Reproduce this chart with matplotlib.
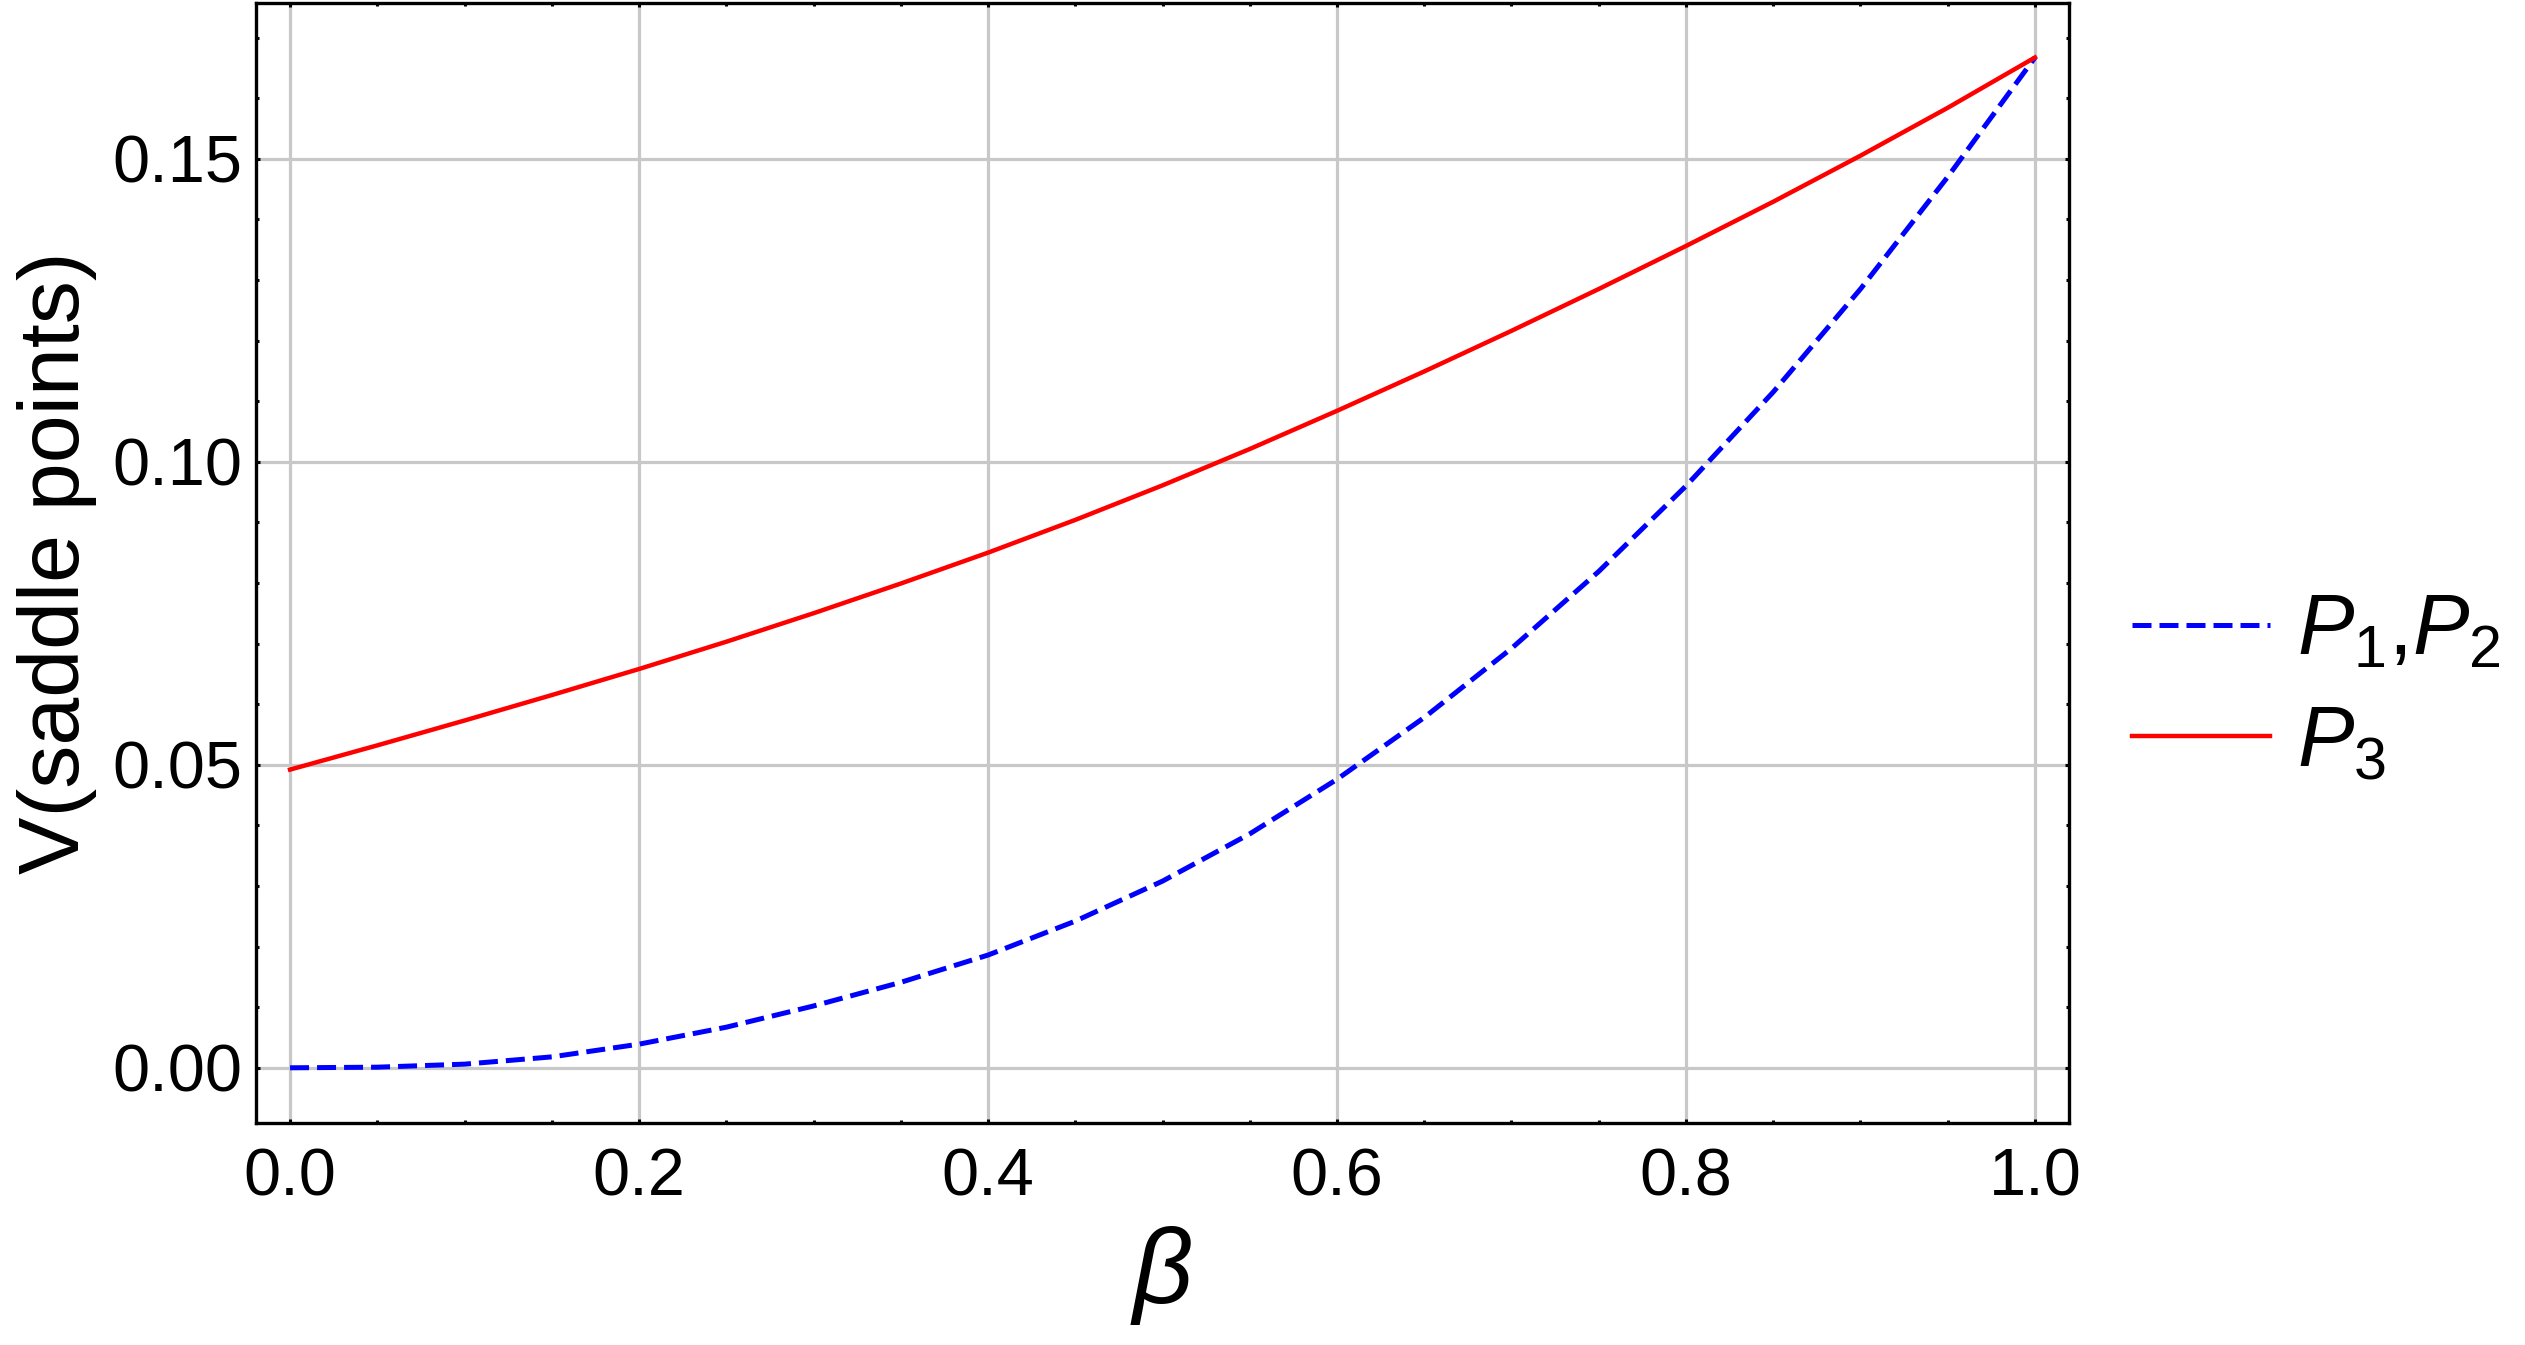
import numpy as np
import matplotlib
matplotlib.use("Agg")
import matplotlib.pyplot as plt
from matplotlib.ticker import MultipleLocator, FormatStrFormatter

plt.rcParams['font.family'] = ['Liberation Sans', 'DejaVu Sans']
plt.rcParams['mathtext.fontset'] = 'custom'
plt.rcParams['mathtext.rm'] = 'Liberation Sans'
plt.rcParams['mathtext.it'] = 'Liberation Sans:italic'

# values
beta = [0.00, 0.05, 0.10, 0.15, 0.20, 0.25, 0.30, 0.35, 0.40, 0.45, 0.50,
        0.55, 0.60, 0.65, 0.70, 0.75, 0.80, 0.85, 0.90, 0.95, 1.00]
v_p12 = [0.0, 0.0001, 0.0006, 0.0018, 0.0039, 0.0067, 0.0102, 0.0141, 0.0186,
         0.0242, 0.0308, 0.0386, 0.0476, 0.0578, 0.0692, 0.0819, 0.0960,
         0.1115, 0.1285, 0.1470, 0.1667]
v_p3 = [0.0492, 0.0532, 0.0573, 0.0615, 0.0658, 0.0703, 0.0750, 0.0799, 0.0850,
        0.0904, 0.0961, 0.1021, 0.1084, 0.1149, 0.1216, 0.1285, 0.1356,
        0.1429, 0.1505, 0.1584, 0.1667]
labels = [r'$P_1$,$P_2$', r'$P_3$']

fig = plt.figure(figsize=(25.25, 13.45), dpi=100)
ax = fig.add_axes([0.1014, 0.1651, 0.7180, 0.8327])

l1, = ax.plot(beta, v_p12, color='#0000ff', lw=3.6, ls=(0, (3.8, 1.6)))
l2, = ax.plot(beta, v_p3, color='#ff0000', lw=3.2)

ax.set_xlim(-0.0195, 1.0195)
ax.set_ylim(-0.0091, 0.1757)

ax.xaxis.set_major_locator(MultipleLocator(0.2))
ax.xaxis.set_minor_locator(MultipleLocator(0.05))
ax.yaxis.set_major_locator(MultipleLocator(0.05))
ax.yaxis.set_minor_locator(MultipleLocator(0.01))
ax.xaxis.set_major_formatter(FormatStrFormatter('%.1f'))
ax.yaxis.set_major_formatter(FormatStrFormatter('%.2f'))

ax.grid(True, which='major', color='#c8c8c8', lw=2.3)
ax.set_axisbelow(True)
for s in ax.spines.values():
    s.set_linewidth(2.4)
    s.set_color('black')

ax.tick_params(which='both', direction='in', top=True, right=True,
               width=2.2, color='black')
ax.tick_params(which='major', length=3)
ax.tick_params(which='minor', length=2.5)
ax.tick_params(axis='x', labelsize=48, pad=18)
ax.tick_params(axis='y', labelsize=48, pad=10)

ax.set_ylabel('V(saddle points)', fontsize=62)
ax.yaxis.set_label_coords(-0.0877, 0.5)
ax.set_xlabel('β', fontsize=76, fontstyle='italic')
ax.xaxis.set_label_coords(0.5, -0.092)

fig.legend([l1, l2], labels, loc='center left', bbox_to_anchor=(0.8444, 0.4885),
           frameon=False, fontsize=61, handlelength=1.63, handletextpad=0.32,
           labelspacing=0.37, borderpad=0, borderaxespad=0)

fig.savefig('out.png', dpi=100)
